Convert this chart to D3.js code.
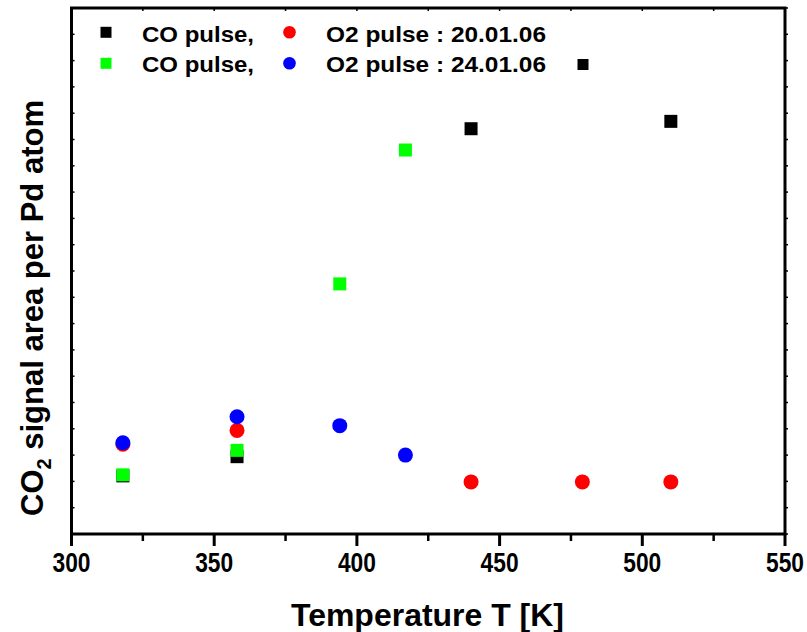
<!DOCTYPE html>
<html>
<head>
<meta charset="utf-8">
<script src="https://cdn.jsdelivr.net/npm/d3@7"></script>
<style>
  body { margin: 0; background: #fff; }
  svg text { font-family: Arial, "Liberation Sans", sans-serif; font-weight: bold; fill: #000; }
</style>
</head>
<body>
<div id="chart"></div>
<script>
// CO pulse (20.01.06)
const coTempA = [318, 358, 440, 510];
const coValA = [2.21, 2.94, 15.41, 15.69];
// CO pulse (24.01.06)
const coTempB = [318, 358, 394, 417];
const coValB = [2.25, 3.18, 9.51, 14.60];
// O2 pulse : 20.01.06
const o2TempA = [318, 358, 440, 479, 510];
const o2ValA = [3.41, 3.94, 1.98, 1.98, 1.98];
// O2 pulse : 24.01.06
const o2TempB = [318, 358, 394, 417];
const o2ValB = [3.47, 4.46, 4.12, 3.00];

const xTicks = [300, 350, 400, 450, 500, 550];
const xMinor = [325, 375, 425, 475, 525];

const width = 807, height = 632;
const plotL = 71.5, plotR = 785, plotT = 8, plotB = 534;

const svg = d3.select("#chart").append("svg")
  .attr("width", width)
  .attr("height", height);

const x = d3.scaleLinear().domain([300, 550]).range([plotL, plotR]);
const y = d3.scaleLinear().domain([0, 20]).range([plotB, plotT]);

// frame
svg.append("rect")
  .attr("x", plotL).attr("y", plotT)
  .attr("width", plotR - plotL).attr("height", plotB - plotT)
  .attr("fill", "none").attr("stroke", "#000").attr("stroke-width", 3);

// bottom axis
const xAxis = svg.append("g").attr("transform", `translate(0,${plotB})`);
xAxis.selectAll(".major").data(xTicks).enter().append("line")
  .attr("x1", d => x(d)).attr("x2", d => x(d))
  .attr("y1", 0).attr("y2", 12)
  .attr("stroke", "#000").attr("stroke-width", 3);
xAxis.selectAll(".minor").data(xMinor).enter().append("line")
  .attr("x1", d => x(d)).attr("x2", d => x(d))
  .attr("y1", 0).attr("y2", 7)
  .attr("stroke", "#000").attr("stroke-width", 2.5);
xAxis.selectAll("text").data(xTicks).enter().append("text")
  .attr("x", d => x(d) - 19).attr("y", 38)
  .style("font-size", "27px")
  .attr("textLength", 38).attr("lengthAdjust", "spacingAndGlyphs")
  .text(d => d);

// tiny inner ticks on top axis
svg.selectAll(".topTick").data(xTicks.concat(xMinor)).enter().append("line")
  .attr("x1", d => x(d)).attr("x2", d => x(d))
  .attr("y1", plotT).attr("y2", plotT + 3)
  .attr("stroke", "#000").attr("stroke-width", 1.5);

// tiny ticks on left and right axis
const yTicks = y.ticks(20);
svg.selectAll(".leftTick").data(yTicks).enter().append("line")
  .attr("x1", plotL).attr("x2", plotL + 3)
  .attr("y1", d => y(d)).attr("y2", d => y(d))
  .attr("stroke", "#000").attr("stroke-width", 1.5);
svg.selectAll(".rightTick").data(yTicks).enter().append("line")
  .attr("x1", plotR).attr("x2", plotR + 3)
  .attr("y1", d => y(d)).attr("y2", d => y(d))
  .attr("stroke", "#000").attr("stroke-width", 1.5);

// axis titles
svg.append("text")
  .attr("x", 291).attr("y", 626)
  .style("font-size", "32px")
  .attr("textLength", 273).attr("lengthAdjust", "spacingAndGlyphs")
  .text("Temperature T [K]");

const yTitle = svg.append("text")
  .attr("transform", "translate(43,308) rotate(-90)")
  .attr("text-anchor", "middle")
  .style("font-size", "31px");
yTitle.append("tspan").text("CO");
yTitle.append("tspan").attr("dy", 8).style("font-size", "20px").text("2");
yTitle.append("tspan").attr("dy", -8).text(" signal area per Pd atom");

// data
const sq = 13, r = 7.5;
function squares(temps, vals, color) {
  svg.append("g").selectAll("rect").data(temps.map((t, i) => [t, vals[i]])).enter().append("rect")
    .attr("x", d => x(d[0]) - sq / 2).attr("y", d => y(d[1]) - sq / 2)
    .attr("width", sq).attr("height", sq)
    .attr("fill", color);
}
function dots(temps, vals, color) {
  svg.append("g").selectAll("circle").data(temps.map((t, i) => [t, vals[i]])).enter().append("circle")
    .attr("cx", d => x(d[0])).attr("cy", d => y(d[1]))
    .attr("r", r)
    .attr("fill", color);
}
squares(coTempA, coValA, "#000000");
squares(coTempB, coValB, "#00ff00");
dots(o2TempA, o2ValA, "#ff0000");
dots(o2TempB, o2ValB, "#0000ff");

// legend
const legend = svg.append("g");
const lsq = 11;
legend.append("rect").attr("x", 106 - lsq / 2).attr("y", 32.3 - lsq / 2).attr("width", lsq).attr("height", lsq).attr("fill", "#000");
legend.append("rect").attr("x", 106 - lsq / 2).attr("y", 63.3 - lsq / 2).attr("width", lsq).attr("height", lsq).attr("fill", "#00ff00");
legend.append("circle").attr("cx", 289.5).attr("cy", 32.3).attr("r", 6.3).attr("fill", "#ff0000");
legend.append("circle").attr("cx", 289.5).attr("cy", 63.3).attr("r", 6.3).attr("fill", "#0000ff");
legend.append("rect").attr("x", 583 - lsq / 2).attr("y", 64.5 - lsq / 2).attr("width", lsq).attr("height", lsq).attr("fill", "#000");

const legendRows = [["CO pulse,", "O2 pulse : 20.01.06", 41.5], ["CO pulse,", "O2 pulse : 24.01.06", 71.5]];
legendRows.forEach(row => {
  legend.append("text").attr("x", 142).attr("y", row[2])
    .style("font-size", "22px")
    .attr("textLength", 112).attr("lengthAdjust", "spacingAndGlyphs")
    .text(row[0]);
  legend.append("text").attr("x", 326).attr("y", row[2])
    .style("font-size", "22px")
    .attr("textLength", 220).attr("lengthAdjust", "spacingAndGlyphs")
    .text(row[1]);
});
</script>
</body>
</html>
